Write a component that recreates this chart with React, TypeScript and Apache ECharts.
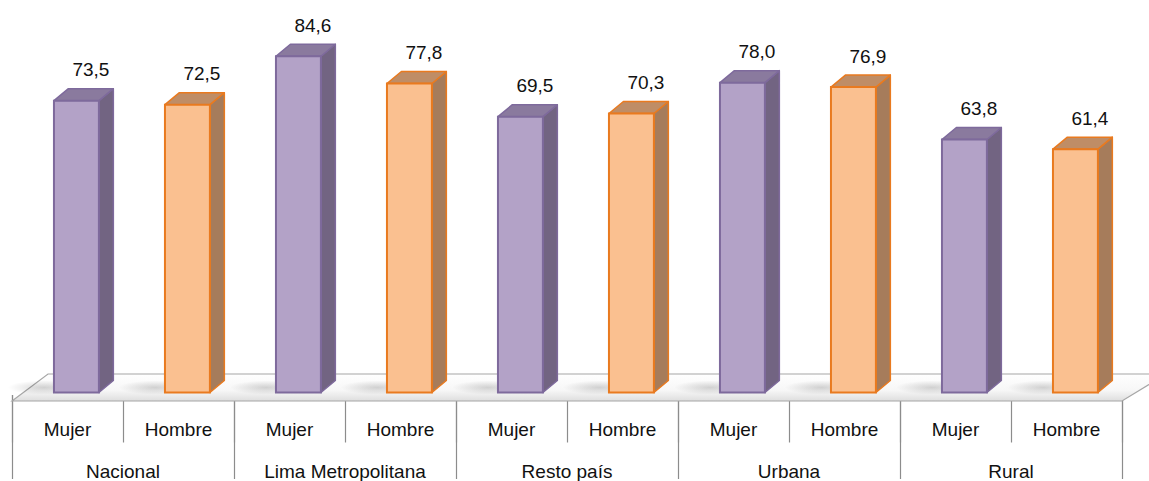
import React, { useEffect, useRef } from "react";
import * as echarts from "echarts";

const subCategories = ["Mujer", "Hombre", "Mujer", "Hombre", "Mujer", "Hombre", "Mujer", "Hombre", "Mujer", "Hombre"];
const groups = ["Nacional", "Lima Metropolitana", "Resto país", "Urbana", "Rural"];
const mujerValues = [73.5, 84.6, 69.5, 78.0, 63.8];
const hombreValues = [72.5, 77.8, 70.3, 76.9, 61.4];

const FONT = "'Liberation Sans', Arial, sans-serif";

const palette = [
  { front: "#B3A2C7", border: "#7E6A9C", side: "#726482", top: "#8A7A9E" },
  { front: "#FAC090", border: "#E97A1F", side: "#A67C5B", top: "#BF8D66" },
];

export default function App() {
  const ref = useRef<HTMLDivElement>(null);
  useEffect(() => {
    document.body.style.margin = "0";
    const chart = echarts.init(ref.current!, undefined, { renderer: "svg" });

    const barData: number[][] = [];
    groups.forEach((_, g) => {
      barData.push([g * 2, mujerValues[g], 0]);
      barData.push([g * 2 + 1, hombreValues[g], 1]);
    });

    const renderFloor = (params: any, api: any) => {
      const cs = params.coordSys;
      const base = api.coord([0, 0])[1];
      const fy = base + 6;
      const by = fy - 27;
      const lx = cs.x;
      const rx = cs.x + cs.width;
      return {
        type: "group",
        children: [
          {
            type: "polygon",
            shape: { points: [[lx, fy], [lx + 36, by], [rx + 44, by], [rx, fy]] },
            style: {
              fill: new echarts.graphic.LinearGradient(0, 0, 0, 1, [
                { offset: 0, color: "#ffffff" },
                { offset: 0.6, color: "#f7f7f7" },
                { offset: 1, color: "#dedede" },
              ]),
              stroke: "#a6a6a6",
              lineWidth: 1.2,
            },
          },
        ],
      };
    };

    const renderBar = (params: any, api: any) => {
      const idx = api.value(0);
      const val = api.value(1);
      const sex = api.value(2);
      const c = palette[sex];
      const top = api.coord([idx, val]);
      const base = api.coord([idx, 0]);
      const band = api.size([1, 0])[0];
      const cx = top[0];
      const x0 = cx - band * 0.122;
      const x1 = x0 + band * 0.405;
      const yTop = top[1];
      const yBot = base[1] - 2.5;
      const dx = band * 0.13;
      const dy = 12;
      return {
        type: "group",
        children: [
          {
            type: "ellipse",
            shape: { cx: x0 - 10, cy: yBot - 5, rx: 36, ry: 7 },
            style: {
              fill: new echarts.graphic.RadialGradient(0.5, 0.5, 0.5, [
                { offset: 0, color: "rgba(0,0,0,0.16)" },
                { offset: 1, color: "rgba(0,0,0,0)" },
              ]),
            },
            silent: true,
          },
          {
            type: "polygon",
            shape: { points: [[x1, yTop], [x1 + dx, yTop - dy], [x1 + dx, yBot - dy], [x1, yBot]] },
            style: { fill: c.side, stroke: c.border, lineWidth: 1.5, lineJoin: "round" },
          },
          {
            type: "polygon",
            shape: { points: [[x0, yTop], [x0 + dx, yTop - dy], [x1 + dx, yTop - dy], [x1, yTop]] },
            style: { fill: c.top, stroke: c.border, lineWidth: 1.5, lineJoin: "round" },
          },
          {
            type: "rect",
            shape: { x: x0, y: yTop, width: x1 - x0, height: yBot - yTop },
            style: { fill: c.front, stroke: c.border, lineWidth: 2 },
          },
          {
            type: "text",
            x: (x0 + x1) / 2 + dx,
            y: yTop - 31,
            style: {
              text: val.toFixed(1).replace(".", ","),
              fontFamily: FONT,
              fontSize: 19,
              fill: "#111",
              align: "center",
              verticalAlign: "middle",
            },
          },
        ],
      };
    };

    chart.setOption({
      animation: false,
      backgroundColor: "#ffffff",
      grid: { left: 12, right: 27, top: 34.6, bottom: 81.5, containLabel: false },
      xAxis: [
        {
          type: "category",
          data: subCategories,
          position: "bottom",
          axisLine: { show: false },
          axisTick: { show: true, length: 47.5, lineStyle: { color: "#8c8c8c", width: 1.2 } },
          axisLabel: {
            margin: 34,
            verticalAlign: "middle",
            fontFamily: FONT,
            fontSize: 19,
            color: "#111",
            interval: 0,
          },
          splitLine: { show: false },
        },
        {
          type: "category",
          data: groups,
          position: "bottom",
          axisLine: { show: false },
          axisTick: { show: true, length: 84, lineStyle: { color: "#8c8c8c", width: 1.2 } },
          axisLabel: {
            margin: 76.5,
            verticalAlign: "middle",
            fontFamily: FONT,
            fontSize: 19,
            color: "#111",
            interval: 0,
          },
          splitLine: { show: false },
        },
      ],
      yAxis: { type: "value", min: 0, max: 90, show: false, splitLine: { show: false } },
      series: [
        {
          type: "custom",
          xAxisIndex: 0,
          renderItem: renderFloor,
          data: [[0, 0]],
          silent: true,
          z: 1,
        },
        {
          type: "custom",
          xAxisIndex: 0,
          renderItem: renderBar,
          data: barData,
          encode: { x: 0, y: 1 },
          z: 2,
        },
      ],
    });
    return () => chart.dispose();
  }, []);
  return <div ref={ref} style={{ width: 1149, height: 481 }} />;
}
